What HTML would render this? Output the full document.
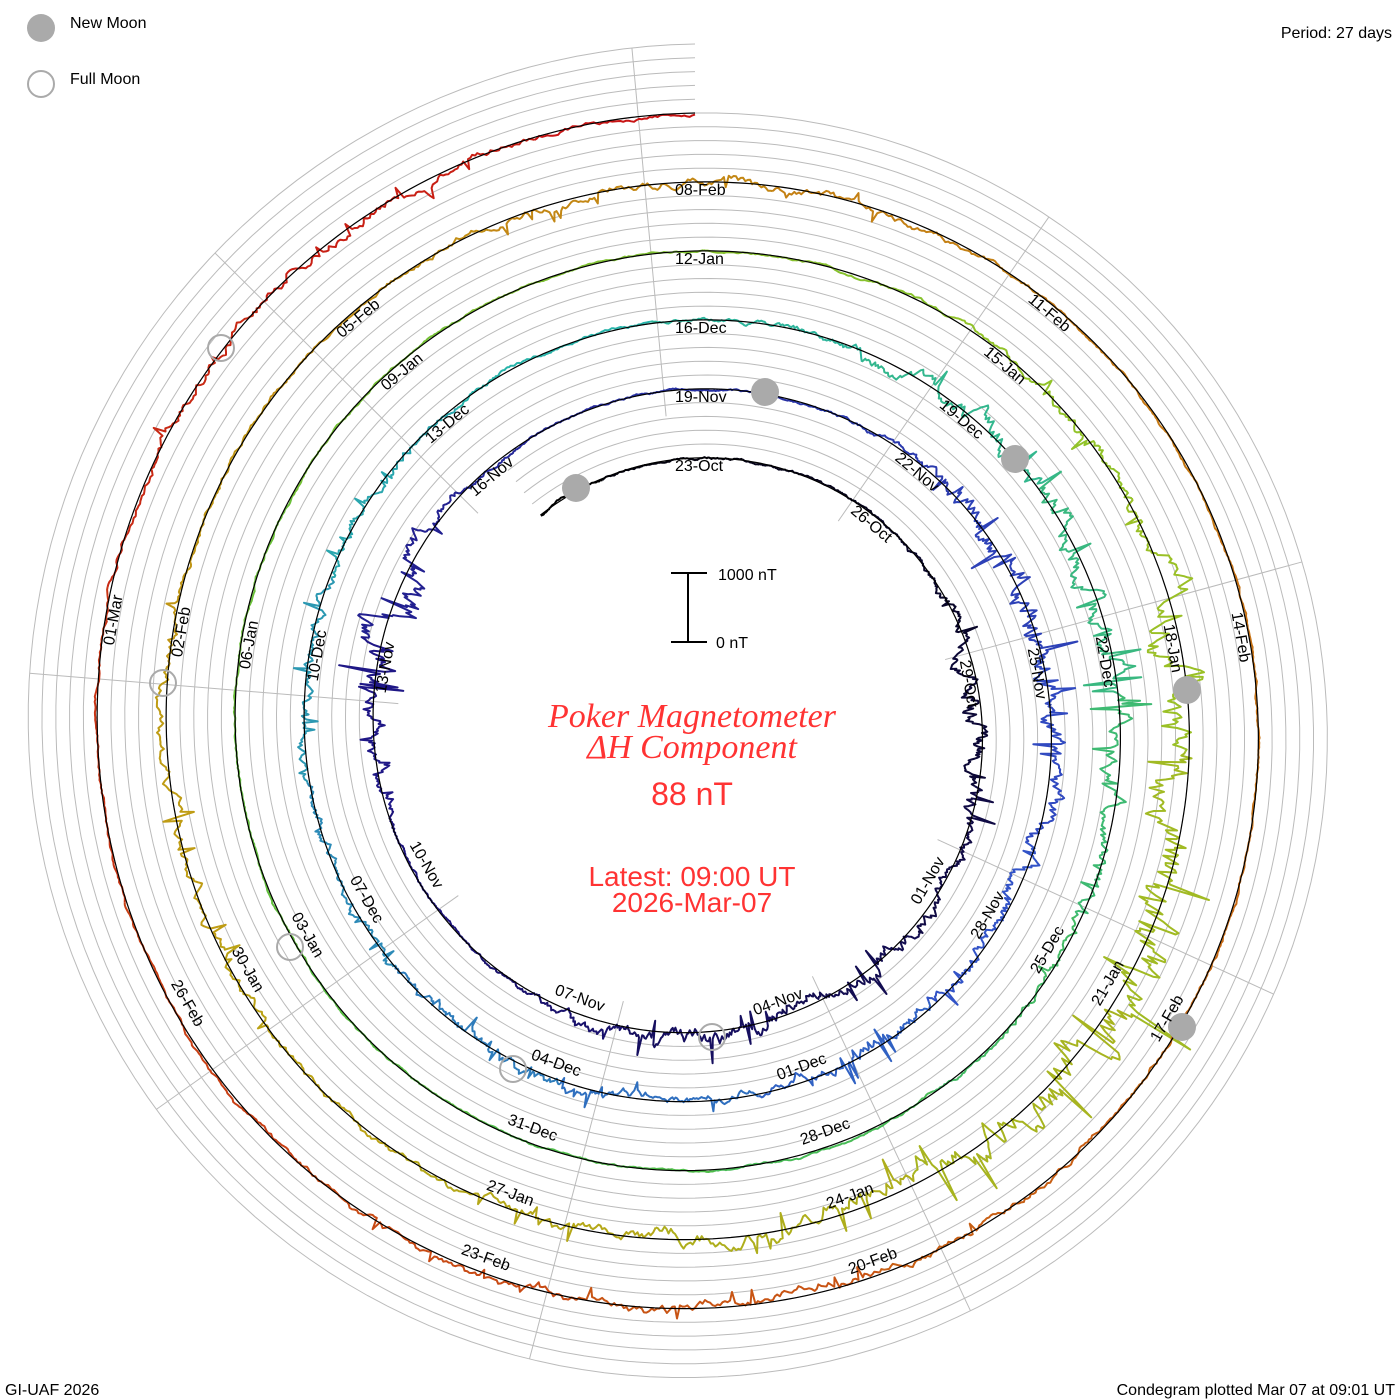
<!DOCTYPE html>
<html><head><meta charset="utf-8"><style>
html,body{margin:0;padding:0;background:#fff;}
svg{display:block;}
.l{font-family:"Liberation Sans",sans-serif;font-size:16px;fill:#000;}
</style></head><body>
<svg id="s" width="1400" height="1400" viewBox="0 0 1400 1400" xmlns="http://www.w3.org/2000/svg">
<g id="grid" fill="none" stroke="#bbb" stroke-width="1"></g>
<g id="data" fill="none" stroke-width="2" stroke-linejoin="round"></g>
<path id="base" fill="none" stroke="#000" stroke-width="1.2"/>
<g fill="#aaa">
<circle cx="576" cy="488" r="14"/><circle cx="765" cy="392" r="14"/><circle cx="1015" cy="459" r="14"/><circle cx="1187" cy="690" r="14"/><circle cx="1182" cy="1027" r="14"/>
<circle cx="41" cy="28" r="14"/>
</g>
<g fill="none" stroke="#aaa" stroke-width="2">
<circle cx="221" cy="348" r="13"/><circle cx="163" cy="683" r="13"/><circle cx="290" cy="947" r="13"/><circle cx="513" cy="1069" r="13"/><circle cx="712" cy="1037" r="13"/>
<circle cx="41" cy="84" r="13"/>
</g>
<text class="l" x="70" y="28" font-size="15">New Moon</text>
<text class="l" x="70" y="84" font-size="15">Full Moon</text>
<text class="l" x="1392" y="38" text-anchor="end" font-size="15">Period: 27 days</text>
<text class="l" x="5" y="1395" font-size="15">GI-UAF 2026</text>
<text class="l" x="1395" y="1395" text-anchor="end" font-size="15">Condegram plotted Mar 07 at 09:01 UT</text>
<g stroke="#000" stroke-width="2"><line x1="688" y1="573" x2="688" y2="642"/><line x1="671" y1="573" x2="707" y2="573"/><line x1="671" y1="642" x2="707" y2="642"/></g>
<text class="l" x="718" y="580" font-size="18">1000 nT</text>
<text class="l" x="716" y="648" font-size="18">0 nT</text>
<g fill="#ff3333" text-anchor="middle">
<text x="692" y="727" font-family="Liberation Serif,serif" font-style="italic" font-size="34">Poker Magnetometer</text>
<text x="692" y="758" font-family="Liberation Serif,serif" font-style="italic" font-size="34">ΔH Component</text>
<text x="692" y="805" font-family="Liberation Sans,sans-serif" font-size="32">88 nT</text>
<text x="692" y="886" font-family="Liberation Sans,sans-serif" font-size="28">Latest: 09:00 UT</text>
<text x="692" y="912" font-family="Liberation Sans,sans-serif" font-size="28">2026-Mar-07</text>
</g>
<g class="l">
<text x="675" y="471.0" transform="rotate(0 695 728)">23-Oct</text>
<text x="675" y="463.3" transform="rotate(40 695 728)">26-Oct</text>
<text x="675" y="455.7" transform="rotate(80 695 728)">29-Oct</text>
<text x="705" y="1011.0" text-anchor="end" transform="rotate(-60 695 728)">01-Nov</text>
<text x="705" y="1018.7" text-anchor="end" transform="rotate(-20 695 728)">04-Nov</text>
<text x="705" y="1026.3" text-anchor="end" transform="rotate(20 695 728)">07-Nov</text>
<text x="705" y="1034.0" text-anchor="end" transform="rotate(60 695 728)">10-Nov</text>
<text x="675" y="417.3" transform="rotate(280 695 728)">13-Nov</text>
<text x="675" y="409.7" transform="rotate(320 695 728)">16-Nov</text>
<text x="675" y="402.0" transform="rotate(0 695 728)">19-Nov</text>
<text x="675" y="394.3" transform="rotate(40 695 728)">22-Nov</text>
<text x="675" y="386.7" transform="rotate(80 695 728)">25-Nov</text>
<text x="705" y="1080.0" text-anchor="end" transform="rotate(-60 695 728)">28-Nov</text>
<text x="705" y="1087.7" text-anchor="end" transform="rotate(-20 695 728)">01-Dec</text>
<text x="705" y="1095.3" text-anchor="end" transform="rotate(20 695 728)">04-Dec</text>
<text x="705" y="1103.0" text-anchor="end" transform="rotate(60 695 728)">07-Dec</text>
<text x="675" y="348.3" transform="rotate(280 695 728)">10-Dec</text>
<text x="675" y="340.7" transform="rotate(320 695 728)">13-Dec</text>
<text x="675" y="333.0" transform="rotate(0 695 728)">16-Dec</text>
<text x="675" y="325.3" transform="rotate(40 695 728)">19-Dec</text>
<text x="675" y="317.7" transform="rotate(80 695 728)">22-Dec</text>
<text x="705" y="1149.0" text-anchor="end" transform="rotate(-60 695 728)">25-Dec</text>
<text x="705" y="1156.7" text-anchor="end" transform="rotate(-20 695 728)">28-Dec</text>
<text x="705" y="1164.3" text-anchor="end" transform="rotate(20 695 728)">31-Dec</text>
<text x="705" y="1172.0" text-anchor="end" transform="rotate(60 695 728)">03-Jan</text>
<text x="675" y="279.3" transform="rotate(280 695 728)">06-Jan</text>
<text x="675" y="271.7" transform="rotate(320 695 728)">09-Jan</text>
<text x="675" y="264.0" transform="rotate(0 695 728)">12-Jan</text>
<text x="675" y="256.3" transform="rotate(40 695 728)">15-Jan</text>
<text x="675" y="248.7" transform="rotate(80 695 728)">18-Jan</text>
<text x="705" y="1218.0" text-anchor="end" transform="rotate(-60 695 728)">21-Jan</text>
<text x="705" y="1225.7" text-anchor="end" transform="rotate(-20 695 728)">24-Jan</text>
<text x="705" y="1233.3" text-anchor="end" transform="rotate(20 695 728)">27-Jan</text>
<text x="705" y="1241.0" text-anchor="end" transform="rotate(60 695 728)">30-Jan</text>
<text x="675" y="210.3" transform="rotate(280 695 728)">02-Feb</text>
<text x="675" y="202.7" transform="rotate(320 695 728)">05-Feb</text>
<text x="675" y="195.0" transform="rotate(0 695 728)">08-Feb</text>
<text x="675" y="187.3" transform="rotate(40 695 728)">11-Feb</text>
<text x="675" y="179.7" transform="rotate(80 695 728)">14-Feb</text>
<text x="705" y="1287.0" text-anchor="end" transform="rotate(-60 695 728)">17-Feb</text>
<text x="705" y="1294.7" text-anchor="end" transform="rotate(-20 695 728)">20-Feb</text>
<text x="705" y="1302.3" text-anchor="end" transform="rotate(20 695 728)">23-Feb</text>
<text x="705" y="1310.0" text-anchor="end" transform="rotate(60 695 728)">26-Feb</text>
<text x="675" y="141.3" transform="rotate(280 695 728)">01-Mar</text>
</g>
</svg>
<script>
(function(){
var cx=695,cy=728,NS="http://www.w3.org/2000/svg";
function R(t){return 270+69*t/360;}
function P(t,r){var a=t*Math.PI/180;return [cx+r*Math.sin(a),cy-r*Math.cos(a)];}
var g=document.getElementById('grid');
function add(par,tag,at){var e=document.createElementNS(NS,tag);for(var k in at)e.setAttribute(k,at[k]);par.appendChild(e);return e;}
for(var m=0;m<=5;m++){var d='';var t0=(m==5)?1440:-36;for(var t=t0;t<=1800;t+=2){var p=P(t,R(t)+13.8*m);d+=(d?'L':'M')+p[0].toFixed(1)+' '+p[1].toFixed(1);}add(g,'path',{d:d});}
for(var j=0;j<9;j++){var a=274.7+40*j;var an=((a%360)+360)%360;var p1=P(a,R(an)-25),p2=P(a,R(an)+345);add(g,'line',{x1:p1[0],y1:p1[1],x2:p2[0],y2:p2[1]});}
var d='';for(var t=-36;t<=1800;t+=1){var p=P(t,R(t));d+=(d?'L':'M')+p[0].toFixed(1)+' '+p[1].toFixed(1);}
document.getElementById('base').setAttribute('d',d);
var cs=[[0,[0,0,0]],[0.16,[30,20,130]],[0.28,[50,80,200]],[0.4,[40,180,170]],[0.52,[80,190,70]],[0.64,[150,195,40]],[0.74,[190,160,20]],[0.86,[200,110,20]],[1,[200,20,20]]];
function col(f){for(var i=1;i<cs.length;i++){if(f<=cs[i][0]){var a=cs[i-1],b=cs[i],u=(f-a[0])/(b[0]-a[0]);return 'rgb('+[0,1,2].map(function(k){return Math.round(a[1][k]+(b[1][k]-a[1][k])*u);}).join(',')+')';}}return 'rgb(200,20,20)';}
var seed=777;function rnd(){seed=(seed*16807)%2147483647;return seed/2147483647;}
var B=[[90,25,15],[150,30,10],[190,20,10],[285,22,26],[430,25,20],[470,20,10],[510,25,9],[570,25,10],[640,40,8],[760,25,9],[800,40,16],[1180,40,30],[1210,25,22],[1260,30,10],[1340,30,8],[1440,30,7],[1620,40,8],[1760,30,7]];
function act(t){var s=2.0;for(var i=0;i<B.length;i++){var u=(t-B[i][0])/B[i][1];s+=B[i][2]*Math.exp(-u*u);}return s;}
var dg=document.getElementById('data');
var v=0,step=0.25,seg=[];
var T0=-36,T1=1800,cur=null,curc=null;
for(var t=T0;t<=T1;t+=step){
 var A=act(t);
 v=v*0.9+(rnd()-0.5)*A*0.7;
 var vv=v;
 if(A>6&&rnd()<0.06)vv+=(rnd()-0.5)*A*3.5;
 var p=P(t,R(t)+vv);
 var f=(t-T0)/(T1-T0);
 var c=col(Math.round(f*60)/60);
 var s=p[0].toFixed(1)+' '+p[1].toFixed(1);
 if(c!==curc){if(cur){cur.d+='L'+s;seg.push(cur);}cur={c:c,d:'M'+s};curc=c;}
 else cur.d+='L'+s;
}
seg.push(cur);
seg.forEach(function(s){add(dg,'path',{d:s.d,stroke:s.c});});
})();
</script>
</body></html>
